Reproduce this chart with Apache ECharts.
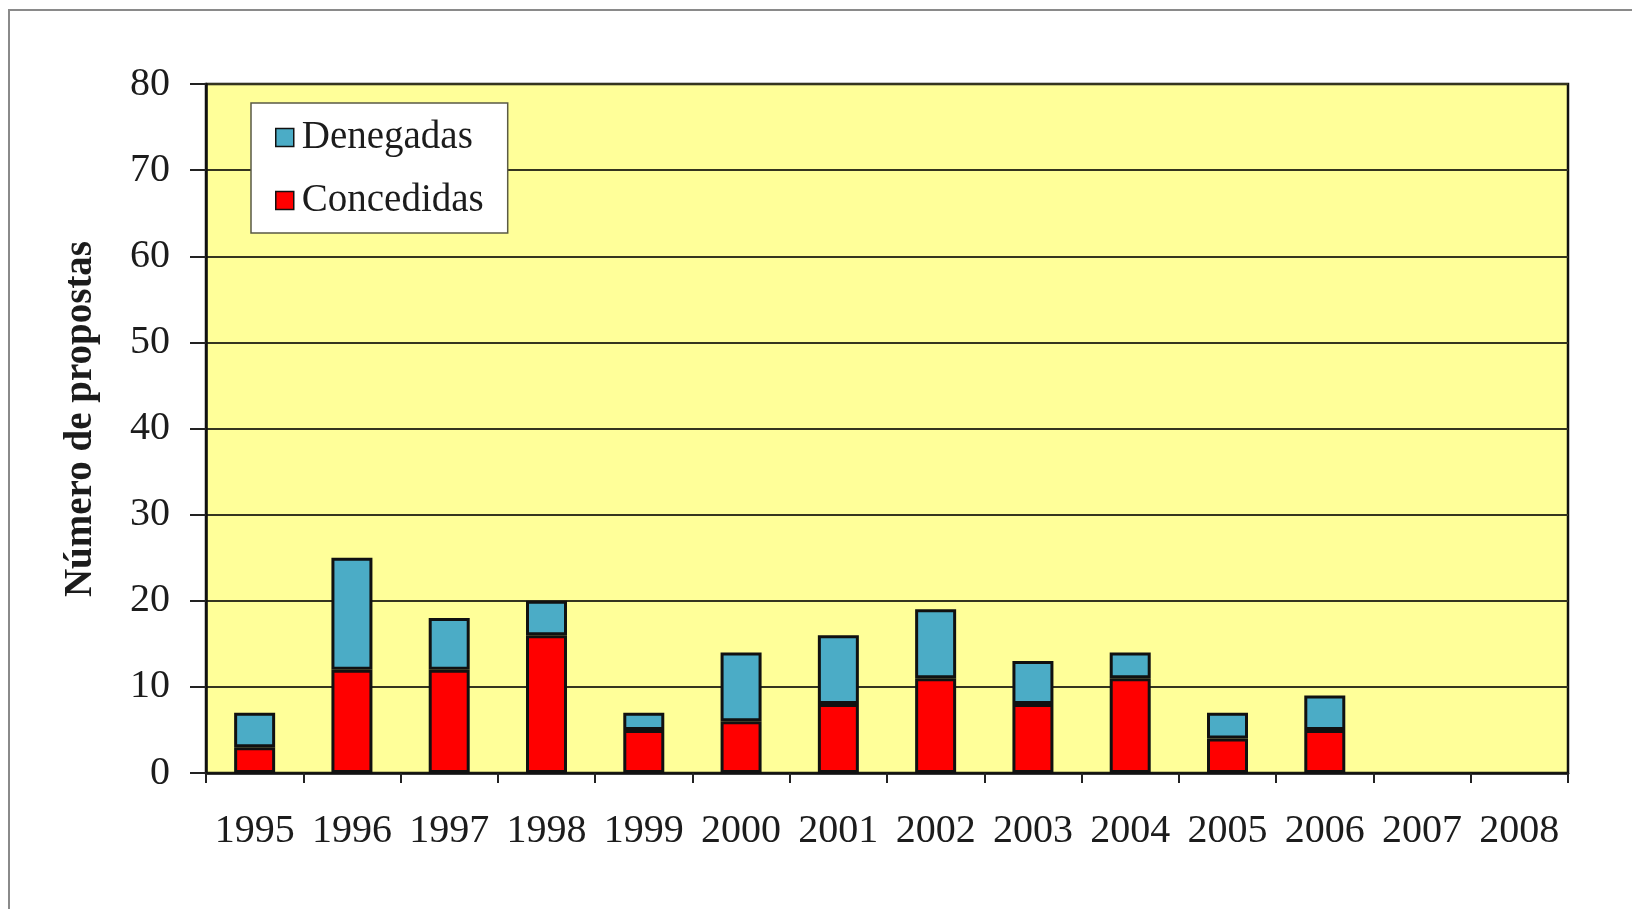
<!DOCTYPE html>
<html>
<head>
<meta charset="utf-8">
<script src="https://cdn.jsdelivr.net/npm/echarts@6/dist/echarts.min.js"></script>
<style>
  html, body { margin: 0; padding: 0; background: #ffffff; }
  #chart { width: 1632px; height: 909px; }
</style>
</head>
<body>
<div id="chart"></div>
<script>
// Proposals per year, split into granted and denied
const years = ['1995', '1996', '1997', '1998', '1999', '2000', '2001',
               '2002', '2003', '2004', '2005', '2006', '2007', '2008'];
const concedidas = [3, 12, 12, 16, 5, 6, 8, 11, 8, 11, 4, 5, 0, 0];
const denegadas  = [4, 13, 6, 4, 2, 8, 8, 8, 5, 3, 3, 4, 0, 0];
const yTicks = [0, 10, 20, 30, 40, 50, 60, 70, 80];

const serif = "'Liberation Serif', 'Times New Roman', serif";
const textColor = '#1c1c1c';

// empty years draw no bar at all (no outline stub on the axis)
const asBar = v => (v === 0 ? '-' : v);

const chart = echarts.init(document.getElementById('chart'), null, { renderer: 'canvas' });

chart.setOption({
  backgroundColor: '#ffffff',
  animation: false,
  graphic: [{
    type: 'rect',
    shape: { x: 9, y: 10, width: 1700, height: 1000 },
    style: { fill: 'none', stroke: '#8a8a8a', lineWidth: 2 },
    silent: true
  }],
  grid: {
    left: 206, top: 84, right: 1632 - 1568, bottom: 909 - 773,
    show: true,
    backgroundColor: '#FFFF99',
    borderColor: '#111111',
    borderWidth: 2.5
  },
  legend: {
    orient: 'vertical',
    left: 251, top: 103,
    data: ['Denegadas', 'Concedidas'],
    backgroundColor: '#ffffff',
    borderColor: '#5a5a45',
    borderWidth: 1.5,
    padding: [15, 24, 13, 24],
    itemGap: 24,
    itemWidth: 18, itemHeight: 18,
    icon: 'rect',
    itemStyle: { borderColor: '#111111', borderWidth: 1.5 },
    textStyle: { fontFamily: serif, fontSize: 39, color: textColor, padding: [0, 0, 0, 3] }
  },
  xAxis: {
    type: 'category',
    data: years,
    boundaryGap: true,
    axisLine: { show: true, lineStyle: { color: '#111111', width: 2.5 } },
    axisTick: { show: true, alignWithLabel: false, length: 10, lineStyle: { color: '#222222', width: 2 } },
    axisLabel: { fontFamily: serif, fontSize: 40, color: textColor, margin: 38, interval: 0 },
    splitLine: { show: false }
  },
  yAxis: {
    type: 'value',
    min: yTicks[0],
    max: yTicks[yTicks.length - 1],
    interval: yTicks[1] - yTicks[0],
    name: 'Número de propostas',
    nameLocation: 'middle',
    nameRotate: 90,
    nameGap: 106,
    nameTextStyle: { fontFamily: serif, fontSize: 39, fontWeight: 'bold', color: textColor, padding: [0, 0, 0, 19] },
    axisLine: { show: true, lineStyle: { color: '#111111', width: 2.5 } },
    axisTick: { show: true, inside: false, length: 16, lineStyle: { color: '#222222', width: 2 } },
    axisLabel: { fontFamily: serif, fontSize: 40, color: textColor, margin: 36 },
    splitLine: { show: true, lineStyle: { color: '#35351f', width: 1.8 } }
  },
  series: [
    {
      name: 'Concedidas',
      type: 'bar',
      stack: 'total',
      data: concedidas.map(asBar),
      barWidth: 41,
      itemStyle: { color: '#FF0000', borderColor: '#111111', borderWidth: 3 }
    },
    {
      name: 'Denegadas',
      type: 'bar',
      stack: 'total',
      data: denegadas.map(asBar),
      barWidth: 41,
      itemStyle: { color: '#4BACC6', borderColor: '#111111', borderWidth: 3 }
    }
  ]
});
</script>
</body>
</html>
